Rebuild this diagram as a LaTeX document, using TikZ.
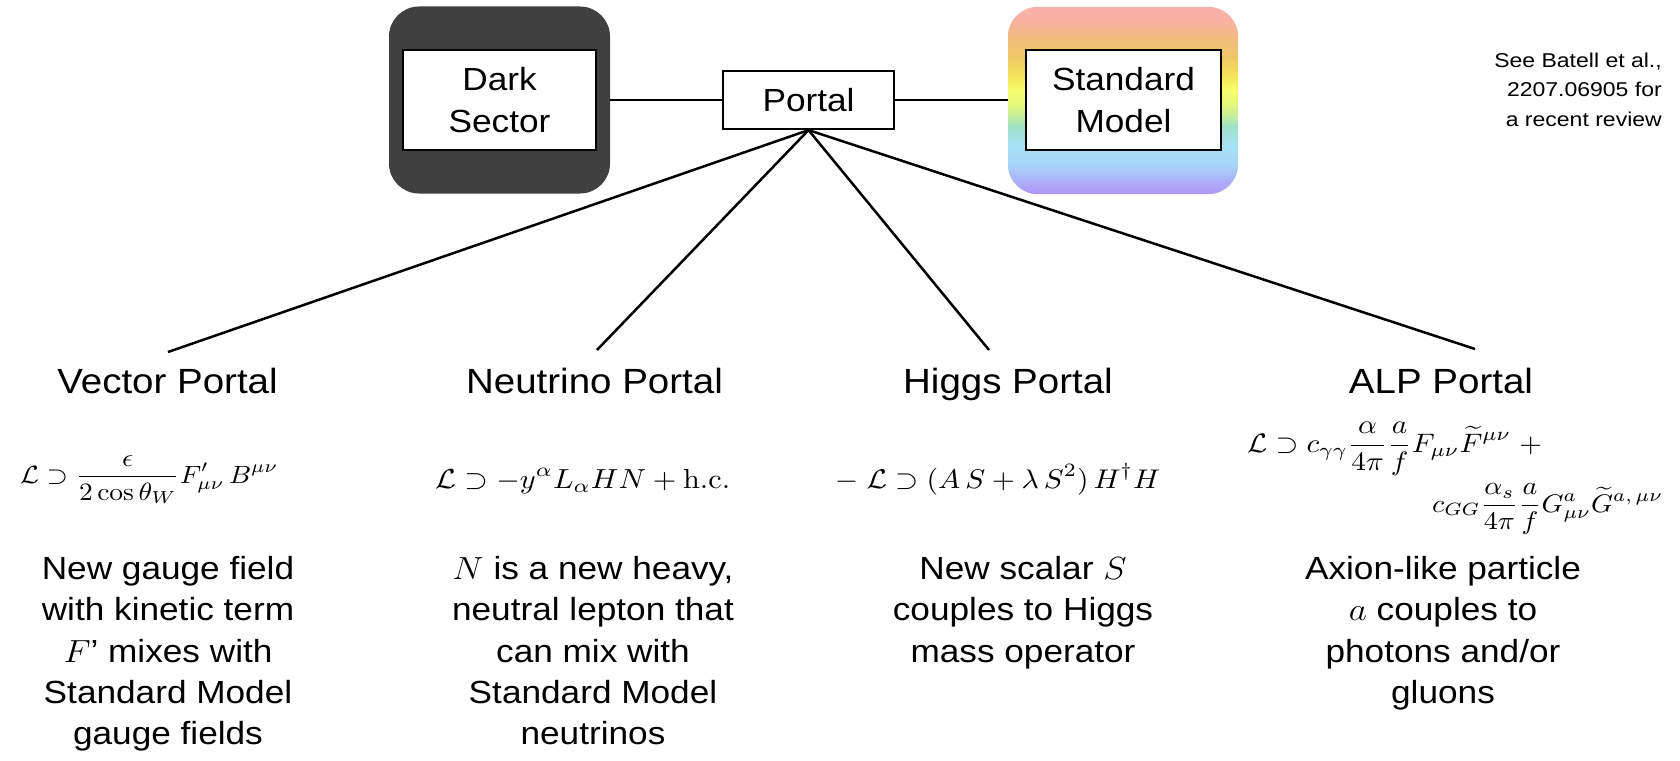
\RequirePackage{fix-cm}
\documentclass[tikz,border=0pt]{standalone}
\usepackage[no-math]{fontspec}
\setmainfont{Liberation Sans}
\usepackage{amsmath,amssymb}
\usepackage{graphicx}
\definecolor{dsgray}{HTML}{404040}
\definecolor{rc0}{HTML}{F9AFAE}
\definecolor{rc1}{HTML}{F7B3A0}
\definecolor{rc2}{HTML}{F2BC80}
\definecolor{rc3}{HTML}{EEC862}
\definecolor{rc4}{HTML}{F6E85C}
\definecolor{rc5}{HTML}{F6FE6E}
\definecolor{rc6}{HTML}{E2F67C}
\definecolor{rc7}{HTML}{9EE2C8}
\definecolor{rc8}{HTML}{A6E3F7}
\definecolor{rc9}{HTML}{A8D4F8}
\definecolor{rc10}{HTML}{B090F8}
\newcommand\wide[1]{\scalebox{1.1}[1]{#1}}
\newcommand\eqbox[2]{\resizebox{#1}{!}{\scalebox{1}[0.91]{$\displaystyle #2$}}}
\begin{document}
\begin{tikzpicture}[x=1pt,y=-1pt,
  conn/.style={line width=2.5pt},
  bgbox/.style={rounded corners=30pt, inner sep=0pt, minimum width=#1, minimum height=187pt},
  sector/.style={draw, line width=2.5pt, fill=white, inner sep=0pt, minimum width=#1, minimum height=100pt, font=\fontsize{32}{42}\selectfont},
  portalbox/.style={draw, line width=2.2pt, fill=white, inner sep=0pt, minimum width=171pt, minimum height=58pt, font=\fontsize{32}{42}\selectfont},
  title/.style={font=\fontsize{35}{42}\selectfont, xscale=1.1, inner sep=0pt, anchor=base},
  desc/.style={font=\fontsize{32}{41.3}\selectfont, xscale=1.1, inner sep=0pt, anchor=base},
  note/.style={font=\fontsize{20}{29.5}\selectfont, xscale=1.15, inner sep=0pt, anchor=base east},
  eq/.style={inner sep=0pt, anchor=base west}]
\useasboundingbox (0,0) rectangle (1680,760);
% top boxes
\node[bgbox=221pt, fill=dsgray] (dsbg) at (499.5,100) {};
\node[sector=193pt] (ds) at (499.5,100) {\wide{\begin{tabular}{@{}c@{}}\rule{0pt}{35.4pt}Dark\\Sector\end{tabular}}};
\node[bgbox=230pt] (smbg) at (1123,100.5) {};
\begin{scope}
  \clip[rounded corners=30pt] (smbg.south west) rectangle (smbg.north east);
  \shade[top color=rc0, bottom color=rc1] (1008,6) rectangle (1238,21.5);
  \shade[top color=rc1, bottom color=rc2] (1008,21) rectangle (1238,37.5);
  \shade[top color=rc2, bottom color=rc3] (1008,37) rectangle (1238,58.5);
  \shade[top color=rc3, bottom color=rc4] (1008,58) rectangle (1238,78.5);
  \shade[top color=rc4, bottom color=rc5] (1008,78) rectangle (1238,91.5);
  \shade[top color=rc5, bottom color=rc6] (1008,91) rectangle (1238,106.5);
  \shade[top color=rc6, bottom color=rc7] (1008,106) rectangle (1238,127.5);
  \shade[top color=rc7, bottom color=rc8] (1008,127) rectangle (1238,145.5);
  \shade[top color=rc8, bottom color=rc9] (1008,145) rectangle (1238,165.5);
  \shade[top color=rc9, bottom color=rc10] (1008,165) rectangle (1238,195);
\end{scope}
\node[sector=195pt] (sm) at (1123.5,100) {\wide{\begin{tabular}{@{}c@{}}\rule{0pt}{35.4pt}Standard\\Model\end{tabular}}};
\node[portalbox] (portal) at (808.5,100) {\wide{Portal}};
\draw[conn] (dsbg.east) -- (portal.west);
\draw[conn] (portal.east) -- (smbg.west |- portal.east);
% fan
\coordinate (v1) at (168,352);
\coordinate (v2) at (597,350);
\coordinate (v3) at (989,350);
\coordinate (v4) at (1475,349);
\foreach \c in {v1,v2,v3,v4} \draw[conn] (portal.south) -- (\c);
% note
\node[note] (ref) at (1662,67) {\begin{tabular}[t]{@{}r@{}}See Batell et al.,\\2207.06905 for\\a recent review\end{tabular}};
% titles
\node[title] (tv) at (167.5,393) {Vector Portal};
\node[title] (tn) at (594.5,393) {Neutrino Portal};
\node[title] (th) at (1008,393) {Higgs Portal};
\node[title] (ta) at (1441,393) {ALP Portal};
% equations
\node[eq] (ev) at (20,483) {\eqbox{258pt}{\mathcal{L}\supset\frac{\epsilon}{2\cos\theta_W}F'_{\mu\nu}\,B^{\mu\nu}}};
\node[eq] (en) at (435,488) {\eqbox{295pt}{\mathcal{L}\supset -y^\alpha L_\alpha H N+\mathrm{h.c.}}};
\node[eq] (eh) at (835,488) {\eqbox{325pt}{-\;\mathcal{L}\supset(A\,S+\lambda\,S^2)\,H^\dagger H}};
\node[eq] (ea1) at (1247,452) {\eqbox{295pt}{\mathcal{L}\supset c_{\gamma\gamma}\frac{\alpha}{4\pi}\frac{a}{f}F_{\mu\nu}\widetilde{F}^{\mu\nu}\;+}};
\node[eq] (ea2) at (1432,512) {\eqbox{231pt}{c_{GG}\frac{\alpha_s}{4\pi}\frac{a}{f}G^a_{\mu\nu}\widetilde{G}^{a,\,\mu\nu}}};
% descriptions
\node[desc] (dv) at (168,579.5) {\begin{tabular}[t]{@{}c@{}}New gauge field\\with kinetic term\\$F$’ mixes with\\Standard Model\\gauge fields\end{tabular}};
\node[desc] (dn) at (593,579.5) {\begin{tabular}[t]{@{}c@{}}$N$ is a new heavy,\\neutral lepton that\\can mix with\\Standard Model\\neutrinos\end{tabular}};
\node[desc] (dh) at (1023,579.5) {\begin{tabular}[t]{@{}c@{}}New scalar $S$\\couples to Higgs\\mass operator\end{tabular}};
\node[desc] (da) at (1443,579.5) {\begin{tabular}[t]{@{}c@{}}Axion-like particle\\$a$ couples to\\photons and/or\\gluons\end{tabular}};
\end{tikzpicture}
\end{document}
